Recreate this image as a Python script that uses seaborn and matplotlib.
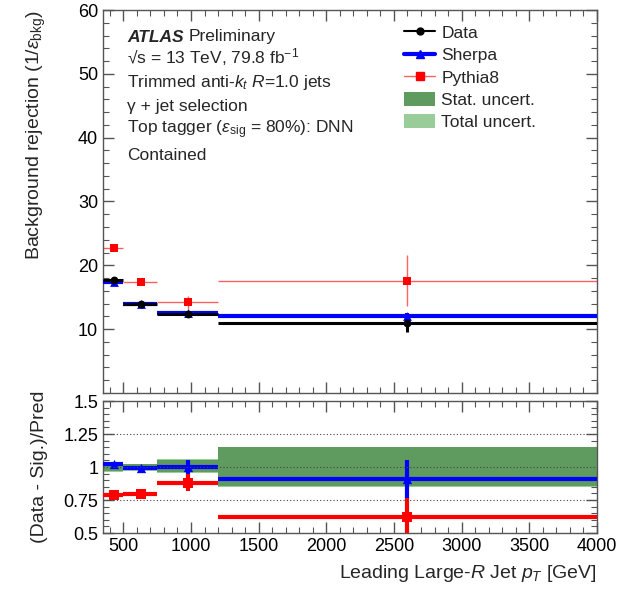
import numpy as np
import pandas as pd
import matplotlib
matplotlib.use("Agg")
import matplotlib.pyplot as plt
from matplotlib.lines import Line2D
from matplotlib.patches import Patch
from matplotlib.ticker import MultipleLocator, FixedLocator, FixedFormatter
import seaborn as sns

# ---------------- data ----------------
bin_lo = [350, 500, 750, 1200]
bin_hi = [500, 750, 1200, 4000]
pt_center = [430, 630, 975, 2600]

data_rej = [17.7, 13.9, 12.4, 10.9]
data_err = [0.3, 0.3, 0.4, 1.3]
sherpa_rej = [17.4, 13.9, 12.5, 12.0]
sherpa_err = [0.3, 0.3, 0.3, 0.5]
pythia_rej = [22.7, 17.4, 14.2, 17.6]
pythia_err = [0.4, 0.4, 1.0, 4.0]

sherpa_ratio = [1.02, 0.99, 1.00, 0.91]
sherpa_ratio_err = [0.015, 0.02, 0.05, 0.145]
pythia_ratio = [0.785, 0.795, 0.88, 0.625]
pythia_ratio_err = [0.02, 0.02, 0.065, 0.15]

stat_lo = [0.97, 0.975, 0.96, 0.855]
stat_hi = [1.03, 1.02, 1.055, 1.15]
tot_lo = [0.965, 0.97, 0.955, 0.85]
tot_hi = [1.035, 1.025, 1.06, 1.155]

top_yticks = [10, 20, 30, 40, 50, 60]
ratio_yticks = [0.5, 0.75, 1.0, 1.25, 1.5]
ratio_ylabels = ["0.5", "0.75", "1", "1.25", "1.5"]

# ---------------- style ----------------
sns.set_style("ticks")
plt.rcParams["font.family"] = ["Liberation Sans", "DejaVu Sans"]
plt.rcParams["mathtext.fontset"] = "custom"
plt.rcParams["mathtext.rm"] = "Liberation Sans"
plt.rcParams["mathtext.it"] = "Liberation Sans:italic"
plt.rcParams["mathtext.bf"] = "Liberation Sans:bold"

FS_TXT = 12.5
FS_TICK = 13
FS_LAB = 14
BLUE = "#0000ff"
RED = "#ff0000"
LRED = "#ff6060"
STAT = "#5f9a5f"
TOT = "#98cc98"
FRAME = "#555555"

top = pd.DataFrame({"pt": pt_center, "lo": bin_lo, "hi": bin_hi,
                    "data": data_rej, "data_err": data_err,
                    "sherpa": sherpa_rej, "sherpa_err": sherpa_err,
                    "pythia": pythia_rej, "pythia_err": pythia_err})
bot = pd.DataFrame({"pt": pt_center, "lo": bin_lo, "hi": bin_hi,
                    "sherpa": sherpa_ratio, "sherpa_err": sherpa_ratio_err,
                    "pythia": pythia_ratio, "pythia_err": pythia_ratio_err,
                    "stat_lo": stat_lo, "stat_hi": stat_hi,
                    "tot_lo": tot_lo, "tot_hi": tot_hi})
xerr = [top["pt"] - top["lo"], top["hi"] - top["pt"]]
widths = np.array(bin_hi) - np.array(bin_lo)

fig = plt.figure(figsize=(6.34, 5.9), dpi=100)
ax1 = fig.add_axes([0.1625, 0.334, 0.779, 0.649])
ax2 = fig.add_axes([0.1625, 0.0966, 0.779, 0.2237])

# ---------------- upper panel ----------------
ax1.errorbar(top["pt"], top["pythia"], xerr=xerr, yerr=top["pythia_err"],
             fmt="none", ecolor=LRED, elinewidth=1.0, capsize=0, zorder=2)
ax1.errorbar(top["pt"], top["sherpa"], xerr=xerr, yerr=top["sherpa_err"],
             fmt="none", ecolor=BLUE, elinewidth=3.0, capsize=0, zorder=3)
ax1.errorbar(top["pt"], top["data"], xerr=xerr, yerr=top["data_err"],
             fmt="none", ecolor="black", elinewidth=2.2, capsize=0, zorder=4)
sns.scatterplot(data=top, x="pt", y="pythia", ax=ax1, marker="s", s=38,
                color=RED, edgecolor=RED, linewidth=0, zorder=5, legend=False)
sns.scatterplot(data=top, x="pt", y="sherpa", ax=ax1, marker="^", s=40,
                color=BLUE, edgecolor=BLUE, linewidth=0, zorder=5, legend=False)
sns.scatterplot(data=top, x="pt", y="data", ax=ax1, marker="o", s=32,
                color="black", edgecolor="black", linewidth=0, zorder=6, legend=False)

ax1.set_xlim(350, 4000)
ax1.set_ylim(0, 60)
ax1.yaxis.set_major_locator(FixedLocator(top_yticks))
ax1.yaxis.set_minor_locator(MultipleLocator(2))
ax1.xaxis.set_major_locator(MultipleLocator(500))
ax1.xaxis.set_minor_locator(MultipleLocator(100))
ax1.set_xlabel("")
ax1.set_ylabel(r"Background rejection (1/$\epsilon_{\rm bkg}$)", fontsize=FS_LAB,
               loc="top")
ax1.yaxis.set_label_coords(-0.112, 1.0)
ax1.tick_params(labelbottom=False)

# ---------------- lower panel ----------------
ax2.bar(bot["lo"], bot["tot_hi"] - bot["tot_lo"], bottom=bot["tot_lo"],
        width=widths, align="edge", color=TOT, linewidth=0, zorder=1)
ax2.bar(bot["lo"], bot["stat_hi"] - bot["stat_lo"], bottom=bot["stat_lo"],
        width=widths, align="edge", color=STAT, linewidth=0, zorder=1.5)
ax2.errorbar(bot["pt"], bot["pythia"], xerr=xerr, yerr=bot["pythia_err"],
             fmt="none", ecolor=RED, elinewidth=3.0, capsize=0, zorder=3)
ax2.errorbar(bot["pt"], bot["sherpa"], xerr=xerr, yerr=bot["sherpa_err"],
             fmt="none", ecolor=BLUE, elinewidth=3.0, capsize=0, zorder=4)
sns.scatterplot(data=bot, x="pt", y="pythia", ax=ax2, marker="s", s=55,
                color=RED, edgecolor=RED, linewidth=0, zorder=5, legend=False)
sns.scatterplot(data=bot, x="pt", y="sherpa", ax=ax2, marker="^", s=45,
                color=BLUE, edgecolor=BLUE, linewidth=0, zorder=5, legend=False)
for yv in [0.75, 1.0, 1.25]:
    ax2.axhline(yv, color="#444444", linestyle=(0, (1, 2)), linewidth=0.8, zorder=6)

ax2.set_xlim(350, 4000)
ax2.set_ylim(0.5, 1.5)
ax2.yaxis.set_major_locator(FixedLocator(ratio_yticks))
ax2.yaxis.set_major_formatter(FixedFormatter(ratio_ylabels))
ax2.yaxis.set_minor_locator(MultipleLocator(0.05))
ax2.xaxis.set_major_locator(MultipleLocator(500))
ax2.xaxis.set_minor_locator(MultipleLocator(100))
ax2.set_xlabel("")
ax2.set_ylabel("(Data - Sig.)/Pred", fontsize=FS_LAB)
ax2.yaxis.set_label_coords(-0.112, 0.5)

for ax in (ax1, ax2):
    for sp in ax.spines.values():
        sp.set_visible(True)
        sp.set_color(FRAME)
        sp.set_linewidth(1.0)
    ax.tick_params(which="both", direction="in", top=True, right=True,
                   color=FRAME, labelsize=FS_TICK, labelcolor="black")
    ax.tick_params(which="major", length=8, width=1)
    ax.tick_params(which="minor", length=4, width=0.8)

fig.text(597 / 634, 1 - 573 / 590, r"Leading Large-$R$ Jet $p_{T}$ [GeV]",
         ha="right", va="center", fontsize=FS_LAB)

# ---------------- annotations ----------------
x0 = 127 / 634
info = [
    (57, "√s = 13 TeV, 79.8 fb$^{-1}$"),
    (82, r"Trimmed anti-$k_{t}$ $R$=1.0 jets"),
    (107, "γ + jet selection"),
    (130, r"Top tagger ($\epsilon_{\rm sig}$ = 80%): DNN"),
    (155, "Contained"),
]
fig.text(x0, 1 - 37 / 590, "ATLAS", fontsize=FS_TXT, fontweight="bold",
         fontstyle="italic", va="center", ha="left")
fig.text(x0 + 62 / 634, 1 - 37 / 590, "Preliminary", fontsize=FS_TXT,
         va="center", ha="left")
for yc, t in info:
    fig.text(x0, 1 - yc / 590, t, fontsize=FS_TXT, va="center", ha="left")

handles = [
    Line2D([], [], color="black", lw=1.5, marker="o", ms=5),
    Line2D([], [], color=BLUE, lw=3, marker="^", ms=6),
    Line2D([], [], color=LRED, lw=1, marker="s", ms=6, mfc=RED, mec=RED),
    Patch(facecolor=STAT, edgecolor="none"),
    Patch(facecolor=TOT, edgecolor="none"),
]
labels = ["Data", "Sherpa", "Pythia8", "Stat. uncert.", "Total uncert."]
fig.legend(handles, labels, loc="upper left",
           bbox_to_anchor=(404 / 634, 1 - 25 / 590), frameon=False,
           fontsize=FS_TXT, labelspacing=0.37, handlelength=1.8,
           handleheight=0.85, handletextpad=0.35, borderaxespad=0, borderpad=0)

fig.savefig("out.png", dpi=100)
